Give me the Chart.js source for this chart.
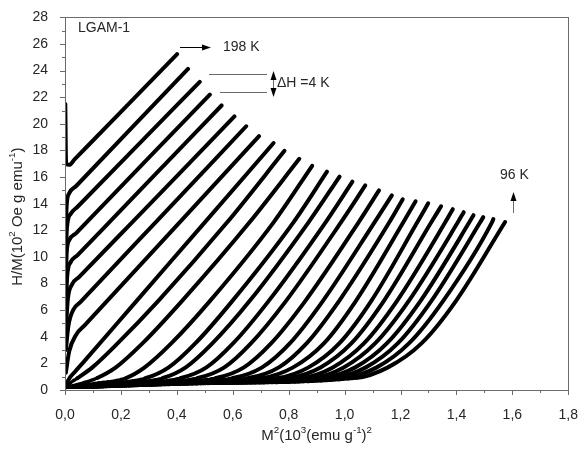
<!DOCTYPE html>
<html>
<head>
<meta charset="utf-8">
<script src="https://cdn.jsdelivr.net/npm/chart.js@4.4.0/dist/chart.umd.min.js"></script>
<style>
  html, body { margin: 0; padding: 0; background: #fff; }
</style>
</head>
<body>
<canvas id="canvas" width="587" height="454"></canvas>
<script>
// temperatures, top curve first
const temps = [198, 194, 190, 186, 182, 178, 174, 170, 166, 162, 158, 154, 150, 146,
               142, 138, 134, 130, 126, 122, 118, 114, 110, 106, 102, 100, 98, 96];

// [M^2, H/M] points, one list per isotherm
const c1  = [[0.001,21.5],[0.004,17.0],[0.015,16.92],[0.035,17.35],[0.2,20.9],[0.401,25.24]];
const c2  = [[0.002,11.5],[0.006,13.9],[0.015,14.78],[0.04,15.33],[0.2,18.85],[0.44,24.13]];
const c3  = [[0.002,9.5],[0.007,12.2],[0.02,13.23],[0.045,13.77],[0.25,18.18],[0.482,23.16]];
const c4  = [[0.002,7.5],[0.006,10.3],[0.015,11.25],[0.04,11.79],[0.077,12.6],[0.3,17.46],[0.518,22.2]];
const c5  = [[0.003,6.0],[0.008,8.6],[0.02,9.6],[0.045,10.14],[0.158,12.6],[0.36,17.01],[0.56,21.38]];
const c6  = [[0.003,4.5],[0.01,6.8],[0.025,7.93],[0.05,8.48],[0.24,12.6],[0.42,16.5],[0.606,20.56]];
const c7  = [[0.003,3.0],[0.012,4.8],[0.03,6.04],[0.055,6.6],[0.324,12.6],[0.648,19.82]];
const c8  = [[0.003,1.3],[0.015,2.9],[0.04,4.16],[0.07,4.85],[0.41,12.6],[0.694,19.08]];
const c9  = [[0.003,0.2],[0.012,0.75],[0.035,1.35],[0.07,2.19],[0.25,6.55],[0.5,12.6],[0.746,18.56]];
const c10 = [[0.004,0.2],[0.02,0.55],[0.045,0.9],[0.098,1.7],[0.188,3.5],[0.333,6.68],[0.58,12.6],[0.785,17.97]];
const c11 = [[0.005,0.2],[0.06,0.5],[0.115,0.9],[0.182,1.7],[0.277,3.5],[0.418,6.68],[0.66,12.6],[0.838,17.37]];
const c12 = [[0.005,0.2],[0.11,0.5],[0.218,0.9],[0.285,1.7],[0.38,3.5],[0.518,6.68],[0.746,12.6],[0.884,16.85]];
const c13 = [[0.01,0.2],[0.15,0.5],[0.29,0.9],[0.371,1.7],[0.466,3.5],[0.598,6.68],[0.817,12.6],[0.937,16.41]];
const c14 = [[0.01,0.2],[0.18,0.5],[0.35,0.9],[0.432,1.7],[0.527,3.5],[0.66,6.68],[0.871,12.6],[0.982,16.04]];
const c15 = [[0.01,0.2],[0.21,0.5],[0.415,0.9],[0.506,1.7],[0.601,3.5],[0.728,6.68],[0.932,12.6],[1.028,15.66]];
const c16 = [[0.02,0.2],[0.24,0.5],[0.475,0.9],[0.57,1.7],[0.665,3.5],[0.79,6.68],[0.987,12.6],[1.074,15.37]];
const c17 = [[0.02,0.2],[0.27,0.5],[0.54,0.9],[0.64,1.7],[0.737,3.5],[0.859,6.68],[1.05,12.6],[1.123,15.0]];
const c18 = [[0.02,0.2],[0.30,0.5],[0.60,0.9],[0.705,1.7],[0.804,3.5],[0.922,6.68],[1.107,12.6],[1.169,14.63]];
const c19 = [[0.03,0.2],[0.33,0.5],[0.655,0.9],[0.765,1.7],[0.864,3.5],[0.98,6.68],[1.16,12.6],[1.208,14.33]];
const c20 = [[0.03,0.2],[0.36,0.5],[0.706,0.9],[0.816,1.7],[0.926,3.5],[1.04,6.68],[1.21,12.6],[1.254,14.18]];
const c21 = [[0.03,0.2],[0.38,0.5],[0.76,0.9],[0.871,1.7],[0.981,3.5],[1.095,6.68],[1.26,12.6],[1.299,14.03]];
const c22 = [[0.04,0.2],[0.40,0.5],[0.80,0.9],[0.914,1.7],[1.024,3.5],[1.14,6.68],[1.31,12.6],[1.345,13.81]];
const c23 = [[0.04,0.2],[0.42,0.5],[0.845,0.9],[0.958,1.7],[1.069,3.5],[1.187,6.68],[1.36,12.6],[1.387,13.59]];
const c24 = [[0.04,0.2],[0.44,0.5],[0.885,0.9],[0.997,1.7],[1.109,3.5],[1.229,6.68],[1.405,12.6],[1.426,13.36]];
const c25 = [[0.05,0.2],[0.46,0.5],[0.925,0.9],[1.038,1.7],[1.151,3.5],[1.271,6.68],[1.446,12.6],[1.461,13.14]];
const c26 = [[0.05,0.2],[0.48,0.5],[0.965,0.9],[1.076,1.7],[1.19,3.5],[1.31,6.68],[1.485,12.6],[1.496,12.99]];
const c27 = [[0.05,0.2],[0.50,0.5],[1.0,0.9],[1.115,1.7],[1.23,3.5],[1.352,6.68],[1.527,12.6],[1.532,12.84]];
const c28 = [[0.06,0.2],[0.52,0.5],[1.04,0.9],[1.155,1.7],[1.275,3.5],[1.398,6.68],[1.574,12.62]];

const curves = [c1, c2, c3, c4, c5, c6, c7, c8, c9, c10, c11, c12, c13, c14,
                c15, c16, c17, c18, c19, c20, c21, c22, c23, c24, c25, c26, c27, c28];

const xTickLabels = ['0,0','0,2','0,4','0,6','0,8','1,0','1,2','1,4','1,6','1,8'];
const yTickLabels = ['0','2','4','6','8','10','12','14','16','18','20','22','24','26','28'];

const axisColor = '#6b6b6b';
const textColor = '#262626';
const fontFamily = '"Liberation Sans", Arial, sans-serif';

// draws text runs, some of them raised as superscripts
const drawRich = (ctx, runs, x, y, size) => {
    let w = 0;
    runs.forEach(([t, sup]) => {
        ctx.font = (sup ? size * 0.65 : size) + 'px ' + fontFamily;
        w += ctx.measureText(t).width;
    });
    let cx = x - w / 2;
    runs.forEach(([t, sup]) => {
        ctx.font = (sup ? size * 0.65 : size) + 'px ' + fontFamily;
        ctx.fillText(t, cx, sup ? y - size * 0.4 : y);
        cx += ctx.measureText(t).width;
    });
};

const arrowHead = (ctx, x, y, dir) => {
    ctx.beginPath();
    if (dir === 'r') { ctx.moveTo(x, y); ctx.lineTo(x - 9, y - 3); ctx.lineTo(x - 9, y + 3); }
    if (dir === 'u') { ctx.moveTo(x, y); ctx.lineTo(x - 3, y + 9); ctx.lineTo(x + 3, y + 9); }
    if (dir === 'd') { ctx.moveTo(x, y); ctx.lineTo(x - 3, y - 9); ctx.lineTo(x + 3, y - 9); }
    ctx.closePath();
    ctx.fill();
};

const decorations = {
    id: 'decorations',
    afterDraw(chart) {
        const {ctx, chartArea: a, scales: {x, y}} = chart;
        ctx.save();
        ctx.strokeStyle = axisColor;
        ctx.lineWidth = 1;
        ctx.strokeRect(Math.round(a.left) + 0.5, Math.round(a.top) + 0.5,
            Math.round(a.right - a.left), Math.round(a.bottom - a.top));

        ctx.beginPath();
        for (let v = 0; v <= 28; v++) {
            const py = Math.round(y.getPixelForValue(v)) + 0.5;
            const len = v % 2 ? 3 : 5;
            ctx.moveTo(a.left - len, py); ctx.lineTo(a.left, py);
        }
        for (let i = 0; i <= 18; i++) {
            const px = Math.round(x.getPixelForValue(i / 10)) + 0.5;
            const len = i % 2 ? 3 : 5;
            ctx.moveTo(px, a.bottom); ctx.lineTo(px, a.bottom + len);
        }
        ctx.stroke();

        // axis titles
        ctx.fillStyle = textColor;
        ctx.textBaseline = 'middle';
        ctx.textAlign = 'left';
        drawRich(ctx, [['M', 0], ['2', 1], ['(10', 0], ['3', 1], ['(emu g', 0], ['-1', 1], [')', 0], ['2', 1]],
            (a.left + a.right) / 2, 436, 15);
        ctx.save();
        ctx.translate(18, (a.top + a.bottom) / 2 + 13);
        ctx.rotate(-Math.PI / 2);
        drawRich(ctx, [['H/M(10', 0], ['2', 1], [' Oe g emu', 0], ['-1', 1], [')', 0]], 0, 0, 15);
        ctx.restore();

        // labels
        ctx.font = '14px ' + fontFamily;
        ctx.fillText('LGAM-1', 78, 28);
        ctx.fillText('198 K', 223, 47);
        ctx.fillText('\u0394H =4 K', 277, 83);
        ctx.fillText('96 K', 500, 175);

        ctx.strokeStyle = '#000';
        ctx.fillStyle = '#000';
        ctx.beginPath();
        ctx.moveTo(180, 47.5); ctx.lineTo(204, 47.5);
        ctx.stroke();
        arrowHead(ctx, 211, 47.5, 'r');

        ctx.strokeStyle = '#444';
        ctx.lineWidth = 0.8;
        ctx.beginPath();
        ctx.moveTo(209, 74.5); ctx.lineTo(267, 74.5);
        ctx.moveTo(220, 92.5); ctx.lineTo(267, 92.5);
        ctx.moveTo(273.5, 78); ctx.lineTo(273.5, 90);
        ctx.moveTo(513.5, 200); ctx.lineTo(513.5, 213);
        ctx.stroke();
        arrowHead(ctx, 273.5, 71, 'u');
        arrowHead(ctx, 273.5, 97, 'd');
        arrowHead(ctx, 513.5, 192, 'u');
        ctx.restore();
    }
};

// the low-field points (bottom band, axis column) look like loose dots
const sparse = c => (c.p0.parsed.y < 0.95 && c.p1.parsed.y < 0.95) ||
                    (c.p0.parsed.x < 0.0025 && c.p1.parsed.x < 0.0025);

const datasets = curves.map((pts, i) => ({
    label: temps[i] + ' K',
    data: pts.map(([m2, hm]) => ({x: m2, y: hm})),
    borderColor: '#000',
    borderWidth: 4,
    borderCapStyle: 'round',
    borderJoinStyle: 'round',
    pointRadius: 0,
    fill: false,
    cubicInterpolationMode: 'monotone',
    segment: {
        borderWidth: c => sparse(c) ? 3.5 : undefined,
        borderDash: c => sparse(c) ? [2.5, 2] : undefined
    }
}));

const ctx = document.getElementById('canvas').getContext('2d');
new Chart(ctx, {
    type: 'line',
    data: {datasets},
    plugins: [decorations],
    options: {
        responsive: false,
        animation: false,
        devicePixelRatio: 1,
        layout: {padding: {top: 13, right: 10, left: 0, bottom: 0}},
        plugins: {legend: {display: false}, tooltip: {enabled: false}},
        scales: {
            x: {
                type: 'linear', min: 0, max: 1.8,
                grid: {display: false},
                border: {display: false},
                ticks: {
                    stepSize: 0.2, padding: 9, color: textColor,
                    font: {family: fontFamily, size: 14},
                    maxRotation: 0,
                    callback: (v, i) => xTickLabels[i]
                },
                afterFit: s => { s.height = 64; }
            },
            y: {
                min: 0, max: 28,
                grid: {display: false},
                border: {display: false},
                ticks: {
                    stepSize: 2, padding: 9, color: textColor,
                    font: {family: fontFamily, size: 14},
                    callback: (v, i) => yTickLabels[i]
                },
                afterFit: s => { s.width = 65; }
            }
        }
    }
});
</script>
</body>
</html>
